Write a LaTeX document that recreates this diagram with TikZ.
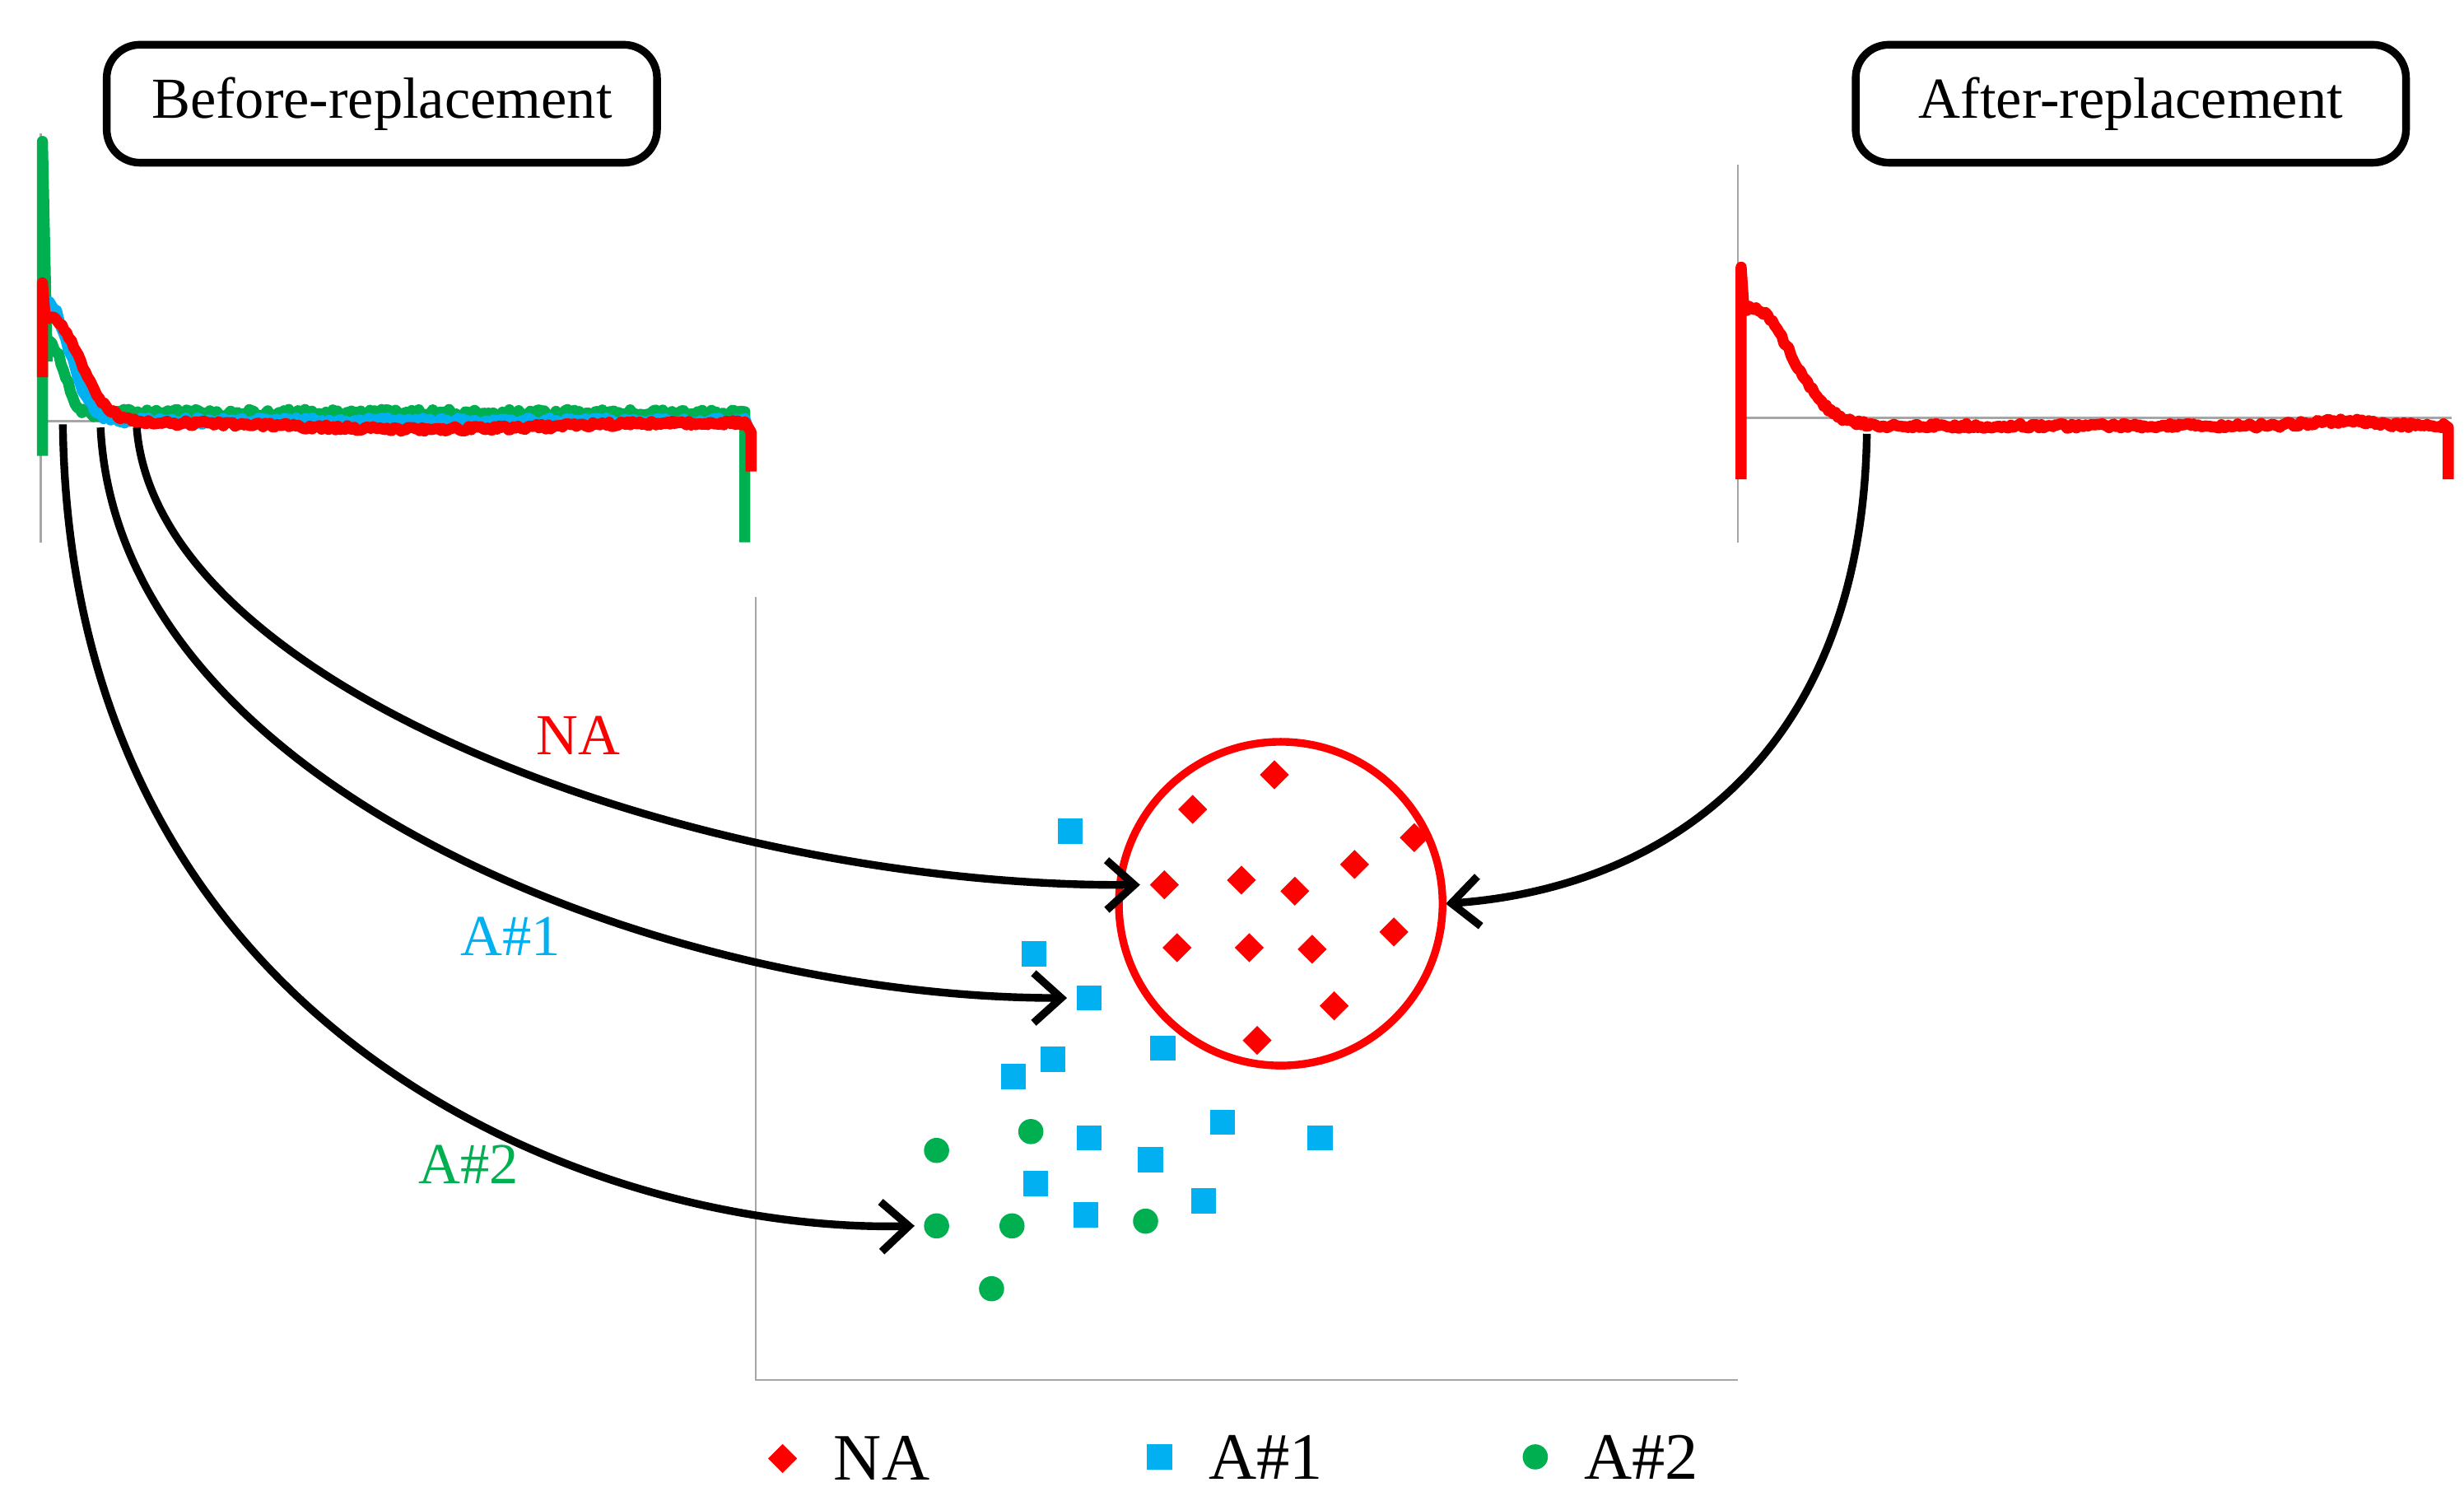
\documentclass[tikz,border=0pt]{standalone}
\usepackage{fontspec}
\setmainfont{Liberation Serif}
\usetikzlibrary{shapes.geometric,arrows.meta,positioning}
\definecolor{naRed}{RGB}{255,0,0}
\definecolor{aOne}{RGB}{0,176,240}
\definecolor{aTwo}{RGB}{0,176,80}
\tikzset{
  titlebox/.style={draw,rounded corners=6pt,line width=1.4pt,minimum width=3.5cm,minimum height=0.75cm,font=\fontsize{10.5}{13}\selectfont},
  axisline/.style={gray!70,line width=0.4pt},
  trace/.style={line width=2pt,line join=round},
  namark/.style={diamond,fill=naRed,inner sep=0pt,minimum size=0.19cm},
  aonemark/.style={rectangle,fill=aOne,inner sep=0pt,minimum size=0.16cm},
  atwomark/.style={circle,fill=aTwo,inner sep=0pt,minimum size=0.16cm},
  link/.style={line width=1.4pt,-{Straight Barb[length=5pt,width=9pt,line width=1.4pt]}},
  lbl/.style={font=\fontsize{10.5}{13}\selectfont}
}
\begin{document}
\begin{tikzpicture}[x=0.01cm,y=-0.01cm]
\pgfmathsetseed{7}
\useasboundingbox (0,0) rectangle (1568,955);
% title boxes
\node[titlebox] (before) at (243,66) {Before-replacement};
\node[titlebox] (after) at (1356,66) {After-replacement};
% left chart
\draw[axisline] (26,85) -- (26,345);
\draw[axisline] (26,268) -- (478,268);
\draw[trace,aTwo] (27,290) -- (27,90) -- (30,230) plot[domain=30:472,samples=300] (\x,{263-45*exp(-((\x-32)/12)^2)+rand*2.5}) -- (474,262) -- (474,345);
\draw[trace,aOne] plot[domain=27:474,samples=300] (\x,{268-75*exp(-((\x-30)/20)^2)+rand*2}) -- (476,272);
\draw[trace,naRed] (27,240) -- (27,180) -- (29,205) plot[domain=29:474,samples=300] (\x,{271-68*exp(-((\x-32)/26)^2)-2*sin(\x)+rand*1.5}) -- (478,275) -- (478,300);
% right chart
\draw[axisline] (1106,105) -- (1106,345);
\draw[axisline] (1106,266) -- (1560,266);
\draw[trace,naRed] (1108,305) -- (1108,170) -- (1110,200) plot[domain=1110:1555,samples=300] (\x,{271-75*exp(-((\x-1115)/35)^2)-3*exp(-((\x-1490)/30)^2)+rand*1.5}) -- (1558,272) -- (1558,305);
% scatter axes
\draw[axisline] (481,380) -- (481,878) -- (1106,878);
\draw[naRed,line width=1.4pt] (815,575) circle (103);
% markers
\foreach \i/\p in {1/{811,493},2/{759,515},3/{900,533},4/{862,550},5/{741,563},6/{790,560},7/{824,567},8/{887,593},9/{749,603},10/{795,603},11/{835,604},12/{849,640},13/{800,662}}
  \node[namark] (na\i) at (\p) {};
\foreach \i/\p in {1/{681,529},2/{658,607},3/{693,635},4/{740,667},5/{670,674},6/{645,685},7/{778,714},8/{840,724},9/{693,724},10/{732,738},11/{659,753},12/{766,764},13/{691,773}}
  \node[aonemark] (ao\i) at (\p) {};
\foreach \i/\p in {1/{596,732},2/{656,720},3/{596,780},4/{644,780},5/{729,777},6/{631,820}}
  \node[atwomark] (at\i) at (\p) {};
% arrows
\coordinate (naStart) at (87,272);
\coordinate (aoStart) at (64,272);
\coordinate (atStart) at (40,270);
\coordinate (afStart) at (1188,276);
\coordinate (circE) at (920,575);
\draw[link] (naStart) .. controls (100,440) and (450,565) .. ([xshift=-1.5pt]na5.west);
\draw[link] (aoStart) .. controls (75,500) and (420,635) .. ([xshift=-1.5pt]ao3.west);
\draw[link] (atStart) .. controls (45,660) and (380,785) .. ([xshift=-1.5pt]at3.west);
\draw[link] (afStart) .. controls (1185,480) and (1060,565) .. (circE);
\node[lbl,text=naRed] (naLbl) at (368,468) {NA};
\node[lbl,text=aOne] (aoLbl) at (325,596) {A\#1};
\node[lbl,text=aTwo] (atLbl) at (298,741) {A\#2};
% legend
\node[namark] (legNa) at (498,928) {};
\node[lbl,font=\fontsize{12}{14}\selectfont,right=0.1cm of legNa] (legNaTxt) {NA};
\node[aonemark] (legAo) at (738,927) {};
\node[lbl,font=\fontsize{12}{14}\selectfont,right=0.1cm of legAo] (legAoTxt) {A\#1};
\node[atwomark] (legAt) at (977,927) {};
\node[lbl,font=\fontsize{12}{14}\selectfont,right=0.1cm of legAt] (legAtTxt) {A\#2};
\end{tikzpicture}
\end{document}
